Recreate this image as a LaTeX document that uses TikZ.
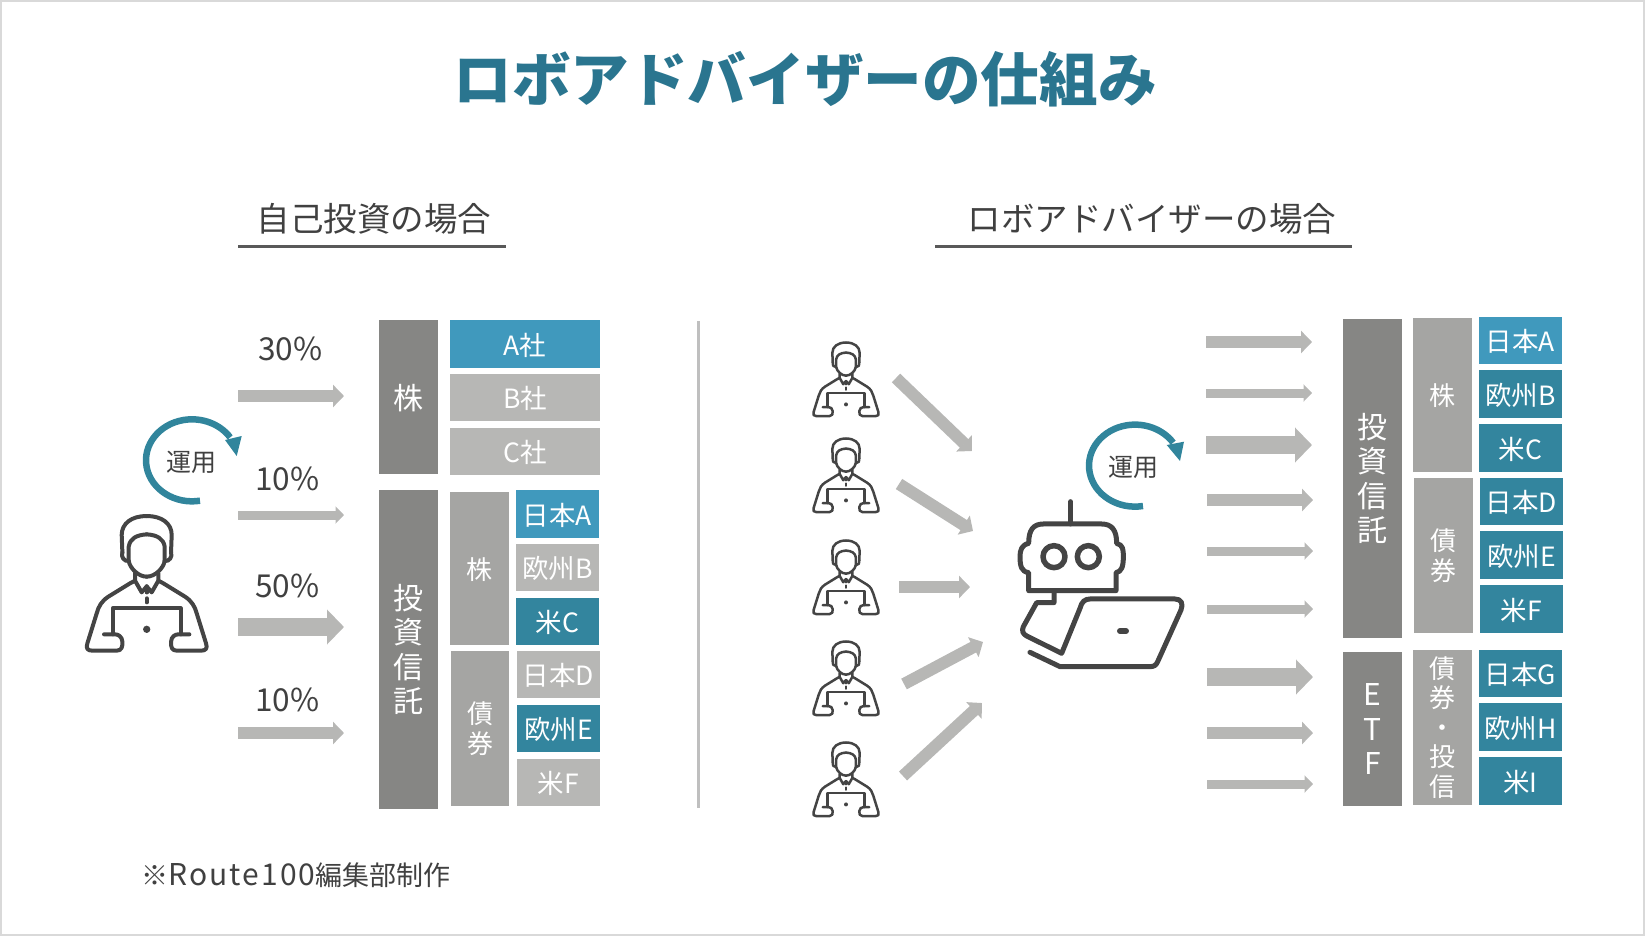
\documentclass[tikz,border=0pt]{standalone}
\usepackage{fontspec}
\setmainfont{Noto Sans CJK JP}
\usetikzlibrary{arrows.meta}
\definecolor{txt}{HTML}{404040}
\definecolor{title}{HTML}{2A758F}
\definecolor{ring}{HTML}{31859C}
\definecolor{cblue}{HTML}{4099BD}
\definecolor{cteal}{HTML}{33859E}
\definecolor{cgray}{HTML}{B7B7B5}
\definecolor{cmid}{HTML}{A5A5A3}
\definecolor{cdark}{HTML}{868684}
\definecolor{icon}{HTML}{444444}
\newcommand{\fs}[1]{\fontsize{#1}{#1}\selectfont}
\tikzset{
  box/.style={inner sep=0pt,outer sep=0pt,text=white,align=center},
  lab30/.style={box,font=\fontsize{30}{34.6}\selectfont},
  lab26/.style={box,font=\fontsize{26}{29.5}\selectfont},
  lab25/.style={box,font=\fs{26.5},text height=24pt,text depth=1.4pt},
  one26/.style={text height=23pt,text depth=1.2pt},
  one30/.style={text height=26pt,text depth=1.2pt},
  ptxt/.style={inner sep=0pt,text=txt,font=\fs{31.6}},
  rotlab/.style={inner sep=0pt,text=txt,font=\fs{25}},
  subhead/.style={inner sep=0pt,text=txt,font=\fs{33.5}},
  arrS/.style={draw=cgray,line width=9pt,-{Triangle[width=17pt,length=8.5pt]}},
  arrM/.style={draw=cgray,line width=12pt,-{Triangle[width=22pt,length=11pt]}},
  arrL/.style={draw=cgray,line width=18pt,-{Triangle[width=34pt,length=17pt]}},
  person/.pic={
    \begin{scope}[draw=icon,line cap=round,line join=round]
      \foreach \s in {1,-1}{
        \begin{scope}[xscale=\s]
          \draw (0,3) .. controls (45,3) and (75,25) .. (75,60) -- (73,112);
          \draw (73,112) .. controls (78,125) and (68,140) .. (54,138);
          \draw (54,138) .. controls (50,160) and (25,185) .. (0,185);
          \draw (54,138) -- (54,95) .. controls (50,70) and (30,60) .. (0,58);
          \draw (35,175) -- (35,197) -- (15,232) -- (0,214);
          \draw (35,197) -- (50,205) -- (115,245) .. controls (135,258) and (145,275) .. (150,295) -- (178,385)
             .. controls (183,400) and (178,407) .. (163,407) -- (90,407)
             .. controls (75,407) and (72,395) .. (73,380) .. controls (74,365) and (85,358) .. (95,358) -- (128,358);
          \draw (0,280) -- (102,280) -- (102,358);
          \draw (0,225) -- (0,232);
        \end{scope}
      }
      \fill[icon] (0,343) circle (11);
      \draw (0,250) -- (0,262);
    \end{scope}
  }
}
\begin{document}
\begin{tikzpicture}[x=1pt,y=-1pt]
\useasboundingbox (0,0) rectangle (1645,936);
\draw[draw=black!15,line width=1.5pt] (1,1) rectangle (1644,935);

% titles
\node[inner sep=0pt,text=title,font=\fs{58.6}\bfseries] (maintitle) at (805,79) {ロボアドバイザーの仕組み};
\node[subhead] (headL) at (374,219) {自己投資の場合};
\node[subhead] (headR) at (1152,219) {ロボアドバイザーの場合};
\coordinate (ruleLa) at (238,246); \coordinate (ruleLb) at (506,246);
\coordinate (ruleRa) at (935,246); \coordinate (ruleRb) at (1352,246);
\draw[draw=black!65,line width=3pt] (ruleLa) -- (ruleLb);
\draw[draw=black!65,line width=3pt] (ruleRa) -- (ruleRb);
\coordinate (sepa) at (698,321); \coordinate (sepb) at (698,808);
\draw[draw=black!25,line width=3pt] (sepa) -- (sepb);

% left stack
\node[lab30,one30,fill=cdark,minimum width=59pt,minimum height=154pt] (Lkabu) at (408.5,397) {株};
\node[lab25,fill=cblue,minimum width=150pt,minimum height=48pt] (La) at (525,344) {A社};
\node[lab25,fill=cgray,minimum width=150pt,minimum height=47pt] (Lb) at (525,397.5) {B社};
\node[lab25,fill=cgray,minimum width=150pt,minimum height=47pt] (Lc) at (525,451.5) {C社};
\node[lab30,fill=cdark,minimum width=59pt,minimum height=319pt] (Ltoshin) at (408.5,649.5) {投\\資\\信\\託};
\node[lab26,one26,fill=cmid,minimum width=59pt,minimum height=153pt] (Lsk) at (479.5,568.5) {株};
\node[lab26,fill=cmid,minimum width=58pt,minimum height=155pt] (Lsb) at (480,728.5) {債\\券};
\node[lab25,fill=cblue,minimum width=83pt,minimum height=48pt] (L1) at (557.5,514) {日本A};
\node[lab25,fill=cgray,minimum width=83pt,minimum height=47pt] (L2) at (557.5,567.5) {欧州B};
\node[lab25,fill=cteal,minimum width=83pt,minimum height=47pt] (L3) at (557.5,621.5) {米C};
\node[lab25,fill=cgray,minimum width=83pt,minimum height=47pt] (L4) at (558.5,674.5) {日本D};
\node[lab25,fill=cteal,minimum width=83pt,minimum height=47pt] (L5) at (558.5,728.5) {欧州E};
\node[lab25,fill=cgray,minimum width=83pt,minimum height=47pt] (L6) at (558.5,782.5) {米F};

% left arrows and percentages
\node[ptxt] (p30) at (290.5,348.5) {30\%};
\node[ptxt] (p10a) at (287.5,478.5) {10\%};
\node[ptxt] (p50) at (287.5,585.5) {50\%};
\node[ptxt] (p10b) at (287.5,699.5) {10\%};
\coordinate (a1s) at (238,396); \coordinate (a1e) at (344,396);
\coordinate (a2s) at (238,515); \coordinate (a2e) at (344,515);
\coordinate (a3s) at (238,627); \coordinate (a3e) at (344,627);
\coordinate (a4s) at (238,733); \coordinate (a4e) at (344,733);
\draw[arrM] (a1s) -- (a1e);
\draw[arrS] (a2s) -- (a2e);
\draw[arrL] (a3s) -- (a3e);
\draw[arrM] (a4s) -- (a4e);

% people
\pic[scale=.3333,line width=4pt] at (146.7,515) {person};
\pic[scale=.182,line width=2.5pt] at (846,342) {person};
\pic[scale=.182,line width=2.5pt] at (846,438) {person};
\pic[scale=.182,line width=2.5pt] at (846,540) {person};
\pic[scale=.182,line width=2.5pt] at (846,641) {person};
\pic[scale=.182,line width=2.5pt] at (846,742) {person};

% rotation marks
\draw[ring,line width=6.5pt] (200,500.7) arc[start angle=-80,end angle=-326,x radius=46pt,y radius=41pt];
\fill[ring] (236.7,456) -- (241.7,436) -- (225,440) -- cycle;
\node[rotlab] (unyoL) at (191,462) {運用};
\draw[ring,line width=6.5pt] (1143,506) arc[start angle=-80,end angle=-326,x radius=46pt,y radius=41pt];
\fill[ring] (1180,461) -- (1184,441.7) -- (1166.7,445) -- cycle;
\node[rotlab] (unyoR) at (1133,467) {運用};

% robot
\begin{scope}[shift={(980,400)},scale=.3333,draw=icon,line width=5pt,line cap=round,line join=round]
  \draw (272,305) -- (272,372);
  \draw (190,372) -- (365,372) .. controls (395,372) and (410,390) .. (410,430) .. controls (430,435) and (430,450) .. (430,470)
     .. controls (430,500) and (425,515) .. (408,518) -- (408,572) -- (146,572) -- (146,518)
     .. controls (125,515) and (120,500) .. (120,470) .. controls (120,450) and (125,435) .. (146,430)
     .. controls (146,390) and (160,372) .. (190,372) -- cycle;
  \draw[line width=5.5pt] (222,470) circle (33);
  \draw[line width=5.5pt] (325,470) circle (33);
  \draw (222,572) -- (222,608) -- (170,608) -- (130,680) .. controls (125,692) and (128,702) .. (140,708) -- (245,760) -- (300,625)
     .. controls (305,605) and (315,597) .. (330,597) -- (585,597) .. controls (605,597) and (610,612) .. (603,630)
     -- (533,785) .. controls (528,796) and (522,800) .. (510,800) -- (240,800) -- (150,757);
  \draw[line width=6pt] (420,693) -- (438,693);
\end{scope}

% input arrows
\coordinate (i1s) at (896,378); \coordinate (i1e) at (972,451);
\coordinate (i2s) at (899,484); \coordinate (i2e) at (973,531);
\coordinate (i3s) at (899,587); \coordinate (i3e) at (970,587);
\coordinate (i4s) at (904,684); \coordinate (i4e) at (983,642);
\coordinate (i5s) at (903,776); \coordinate (i5e) at (982,703);
\draw[arrM] (i1s) -- (i1e);
\draw[arrM] (i2s) -- (i2e);
\draw[arrM] (i3s) -- (i3e);
\draw[arrM] (i4s) -- (i4e);
\draw[arrM] (i5s) -- (i5e);

% output arrows
\coordinate (o1s) at (1206,342); \coordinate (o1e) at (1312,342);
\coordinate (o2s) at (1206,393); \coordinate (o2e) at (1312,393);
\coordinate (o3s) at (1206,445); \coordinate (o3e) at (1312,445);
\coordinate (o4s) at (1207,500); \coordinate (o4e) at (1313,500);
\coordinate (o5s) at (1207,551); \coordinate (o5e) at (1313,551);
\coordinate (o6s) at (1207,609); \coordinate (o6e) at (1313,609);
\coordinate (o7s) at (1207,677); \coordinate (o7e) at (1313,677);
\coordinate (o8s) at (1207,733); \coordinate (o8e) at (1313,733);
\coordinate (o9s) at (1207,784); \coordinate (o9e) at (1313,784);
\draw[arrM] (o1s) -- (o1e);
\draw[arrS] (o2s) -- (o2e);
\draw[arrL] (o3s) -- (o3e);
\draw[arrM] (o4s) -- (o4e);
\draw[arrS] (o5s) -- (o5e);
\draw[arrS] (o6s) -- (o6e);
\draw[arrL] (o7s) -- (o7e);
\draw[arrM] (o8s) -- (o8e);
\draw[arrS] (o9s) -- (o9e);

% right stack
\node[lab30,fill=cdark,minimum width=59pt,minimum height=319pt] (Rtoshin) at (1372.5,478.5) {投\\資\\信\\託};
\node[lab30,fill=cdark,minimum width=59pt,minimum height=154pt] (Retf) at (1372.5,729) {E\\T\\F};
\node[lab26,one26,fill=cmid,minimum width=59pt,minimum height=154pt] (Rsk) at (1442.5,395) {株};
\node[lab26,fill=cmid,minimum width=59pt,minimum height=155pt] (Rsb) at (1443.5,555.5) {債\\券};
\node[lab26,fill=cmid,minimum width=59pt,minimum height=155pt] (Rse) at (1442.5,727.5) {債\\券\\・\\投\\信};
\node[lab25,fill=cblue,minimum width=83pt,minimum height=47pt] (R1) at (1520.5,340.5) {日本A};
\node[lab25,fill=cteal,minimum width=83pt,minimum height=48pt] (R2) at (1520.5,394) {欧州B};
\node[lab25,fill=cteal,minimum width=83pt,minimum height=48pt] (R3) at (1520.5,448) {米C};
\node[lab25,fill=cteal,minimum width=83pt,minimum height=47pt] (R4) at (1521.5,501.5) {日本D};
\node[lab25,fill=cteal,minimum width=83pt,minimum height=48pt] (R5) at (1521.5,555) {欧州E};
\node[lab25,fill=cteal,minimum width=83pt,minimum height=48pt] (R6) at (1521.5,609) {米F};
\node[lab25,fill=cteal,minimum width=83pt,minimum height=47pt] (R7) at (1520.5,673.5) {日本G};
\node[lab25,fill=cteal,minimum width=83pt,minimum height=48pt] (R8) at (1520.5,727) {欧州H};
\node[lab25,fill=cteal,minimum width=83pt,minimum height=48pt] (R9) at (1520.5,781) {米I};

% footer
\node[inner sep=0pt,anchor=west,text=txt,font=\fs{27}] (foot) at (141,875) {※{\fontsize{30}{30}\selectfont\addfontfeature{LetterSpace=7}Route100}編集部制作};
\end{tikzpicture}
\end{document}
